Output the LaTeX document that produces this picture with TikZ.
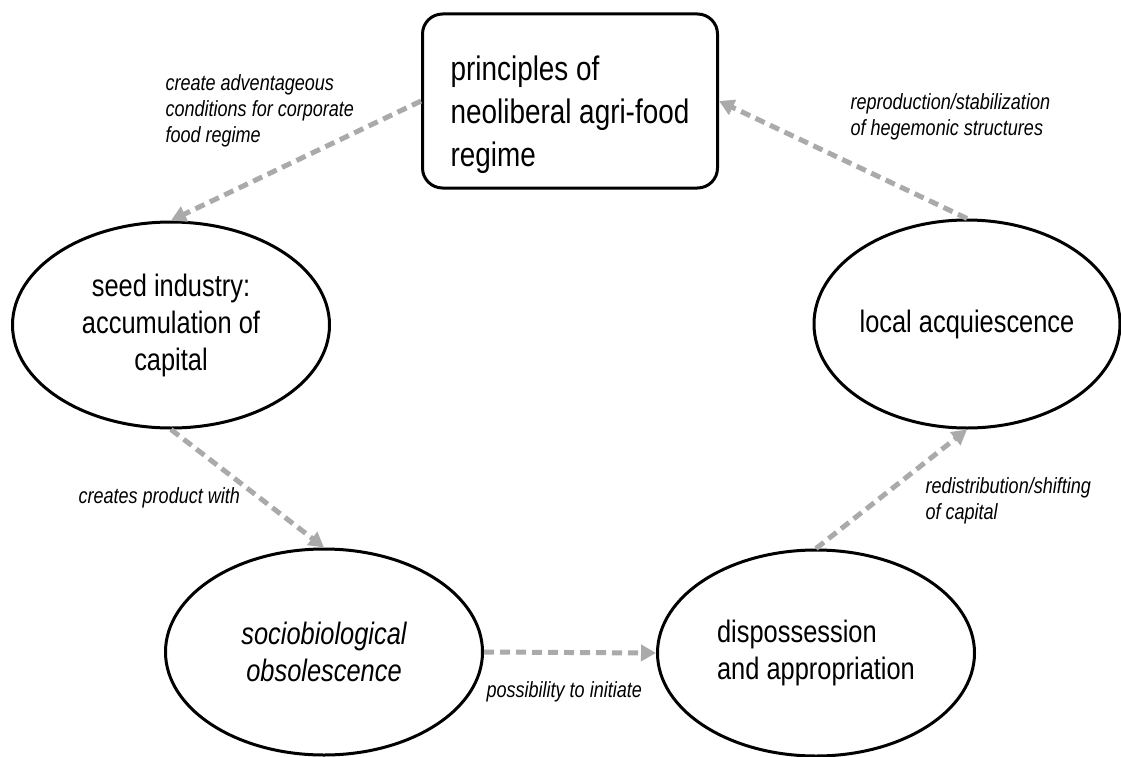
\documentclass[tikz,border=0pt]{standalone}
\usepackage{fontspec}
\setmainfont{Liberation Sans}[FakeStretch=0.82]
\usepackage{tikz}
\usetikzlibrary{arrows.meta,shapes}

\definecolor{flowgray}{HTML}{AAAAAA}
\newcommand\regimefont{\fontsize{34}{43}\selectfont}
\newcommand\topicfont{\fontsize{31}{37}\selectfont}
\newcommand\notefont{\fontsize{22}{26}\selectfont\itshape}

\tikzset{
  topic/.style={draw,ellipse,line width=3pt,minimum width=317pt,minimum height=206pt,
    inner sep=0pt,align=center,font=\topicfont},
  flow/.style={draw=flowgray,line width=5pt,dash pattern=on 10pt off 6pt,
    -{Triangle[length=15pt,width=16pt]}},
  note/.style={anchor=west,align=left,font=\notefont}
}

\begin{document}
\begin{tikzpicture}[x=1pt,y=-1pt]
\useasboundingbox (0,0) rectangle (1121,757);
\node[draw,line width=3pt,rounded corners=20pt,minimum width=295pt,minimum height=174pt,
  align=left,font=\regimefont] (regime) at (570,101)
  {\rule{0pt}{52pt}principles of\\neoliberal agri-food\\regime};
\node[topic] (seed) at (171,325) {seed industry:\\accumulation of\\capital};
\node[topic,minimum width=306pt,minimum height=208pt] (local) at (967,324) {local acquiescence};
\node[topic,font=\topicfont\itshape] (socio) at (324,652) {sociobiological\\obsolescence};
\node[topic,align=left] (disp) at (816,653) {dispossession\\and appropriation};

\draw[flow] (regime.west) -- (seed.north);
\draw[flow] (seed.south) -- (socio.north);
\draw[flow] (socio.east) -- (disp.west);
\draw[flow] (disp.north) -- (local.south);
\draw[flow] (local.north) -- (regime.east);

\node[note] (create) at (162,111) {create adventageous\\conditions for corporate\\food regime};
\node[note] (reprod) at (847,117) {reproduction/stabilization\\of hegemonic structures};
\node[note] (product) at (75,498) {creates product with};
\node[note] (initiate) at (483,692) {possibility to initiate};
\node[note] (redist) at (922,501) {redistribution/shifting\\of capital};
\end{tikzpicture}
\end{document}
